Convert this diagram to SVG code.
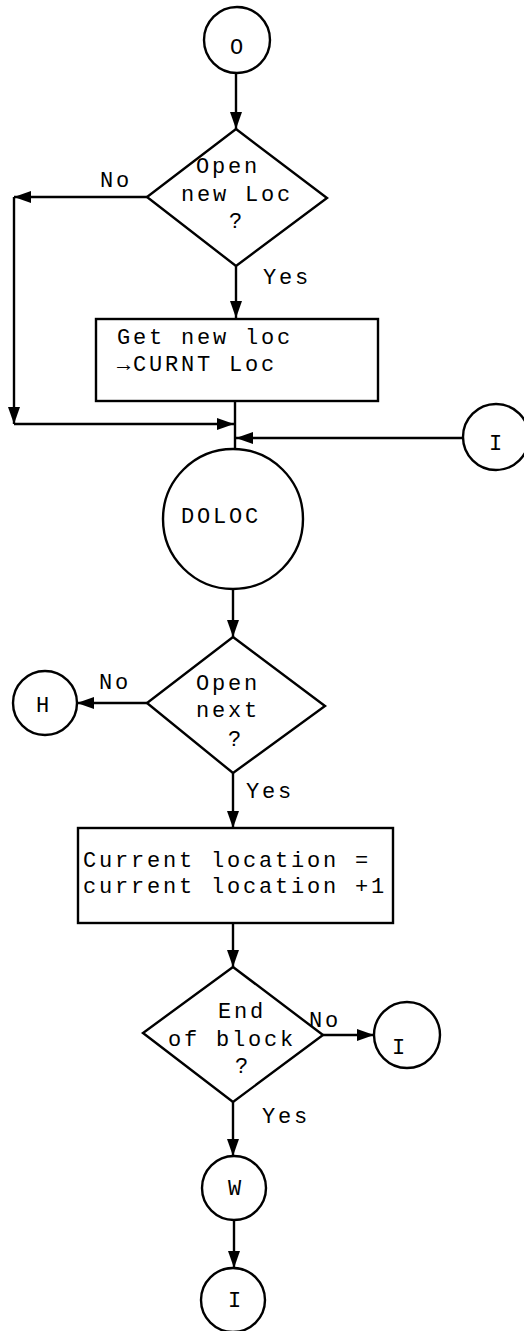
<svg xmlns="http://www.w3.org/2000/svg" width="524" height="1331" viewBox="0 0 524 1331">
<style>
.s{fill:#fff;stroke:#000;stroke-width:2.4}
.c{fill:none;stroke:#000;stroke-width:2.4}
.t{font-family:"Liberation Mono","Courier New",monospace;font-size:22px;letter-spacing:2.8px;fill:#000}
</style>
<defs>
<marker id="a" markerUnits="userSpaceOnUse" markerWidth="17" markerHeight="12" refX="17" refY="6" orient="auto">
<path d="M0,0 L17,6 L0,12 z" fill="#000"/>
</marker>
</defs>
<rect width="524" height="1331" fill="#fff"/>
<g id="connectors">
<path class="c" d="M236,73 V129" marker-end="url(#a)"/>
<path class="c" d="M147,197 H14" marker-end="url(#a)"/>
<path class="c" d="M14,197 V424" marker-end="url(#a)"/>
<path class="c" d="M14,424 H234" marker-end="url(#a)"/>
<path class="c" d="M236,266 V318" marker-end="url(#a)"/>
<path class="c" d="M235,401 V449"/>
<path class="c" d="M463,438 H236" marker-end="url(#a)"/>
<path class="c" d="M233,589 V637" marker-end="url(#a)"/>
<path class="c" d="M147,703 H77" marker-end="url(#a)"/>
<path class="c" d="M233,773 V828" marker-end="url(#a)"/>
<path class="c" d="M233,923 V967" marker-end="url(#a)"/>
<path class="c" d="M323,1035 H374" marker-end="url(#a)"/>
<path class="c" d="M233,1102 V1156" marker-end="url(#a)"/>
<path class="c" d="M234,1220 V1268" marker-end="url(#a)"/>
<text class="t" x="100" y="187">No</text>
<text class="t" x="263" y="284">Yes</text>
<text class="t" x="99" y="689">No</text>
<text class="t" x="246" y="798">Yes</text>
<text class="t" x="309" y="1027">No</text>
<text class="t" x="262" y="1123">Yes</text>
</g>
<g id="startO">
<circle class="s" cx="237" cy="40" r="33"/>
<text class="t" x="230" y="54">O</text>
</g>
<g id="decision1">
<polygon class="s" points="236,129 327,198 236,266 147,197"/>
<text class="t" x="196" y="173">Open</text>
<text class="t" x="181" y="201">new Loc</text>
<text class="t" x="229" y="228">?</text>
</g>
<g id="box1">
<rect class="s" x="96" y="319" width="282" height="82"/>
<text class="t" x="117" y="344">Get new loc</text>
<text class="t" x="117" y="371">→CURNT Loc</text>
</g>
<g id="connectorI1">
<circle class="s" cx="496" cy="437" r="33"/>
<text class="t" x="489" y="450">I</text>
</g>
<g id="doloc">
<circle class="s" cx="233" cy="519" r="70"/>
<text class="t" x="181" y="523">DOLOC</text>
</g>
<g id="decision2">
<polygon class="s" points="233,637 325,706 233,773 147,703"/>
<text class="t" x="196" y="690">Open</text>
<text class="t" x="196" y="717">next</text>
<text class="t" x="228" y="746">?</text>
</g>
<g id="connectorH">
<circle class="s" cx="45" cy="703" r="32"/>
<text class="t" x="36" y="712">H</text>
</g>
<g id="box2">
<rect class="s" x="78" y="828" width="315" height="95"/>
<text class="t" x="83" y="867">Current location =</text>
<text class="t" x="83" y="893">current location +1</text>
</g>
<g id="decision3">
<polygon class="s" points="233,967 323,1035 233,1102 143,1033"/>
<text class="t" x="218" y="1018">End</text>
<text class="t" x="168" y="1046">of block</text>
<text class="t" x="235" y="1073">?</text>
</g>
<g id="connectorI2">
<circle class="s" cx="407" cy="1035" r="33"/>
<text class="t" x="392" y="1054">I</text>
</g>
<g id="connectorW">
<circle class="s" cx="234" cy="1188" r="32"/>
<text class="t" x="228" y="1195">W</text>
</g>
<g id="connectorI3">
<circle class="s" cx="233" cy="1300" r="32"/>
<text class="t" x="228" y="1307">I</text>
</g>
</svg>
